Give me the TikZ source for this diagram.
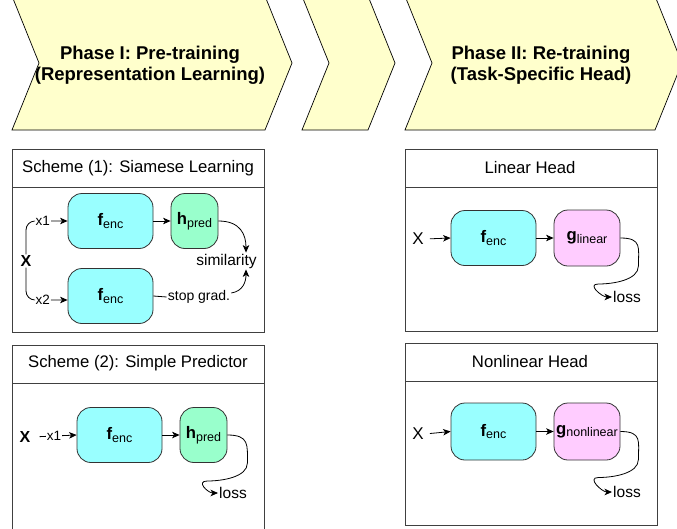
\documentclass[tikz,border=0pt]{standalone}
\usepackage{fontspec}
\setmainfont{Liberation Sans}
\usetikzlibrary{arrows.meta}
\definecolor{chevfill}{HTML}{FFFFCC}
\definecolor{encfill}{HTML}{99FFFF}
\definecolor{predfill}{HTML}{99FFCC}
\definecolor{headfill}{HTML}{FFCCFF}
\newcommand\fsz[1]{\fontsize{#1}{#1}\selectfont}
\newcommand\lowsub[1]{\raisebox{-0.3ex}{\fsz{12.5}#1}}
\begin{document}
\begin{tikzpicture}[x=1pt,y=-1pt,
  chev/.style={draw=black, fill=chevfill, line width=0.7pt},
  chevtext/.style={align=center, font=\fontsize{18.5}{21}\selectfont\bfseries},
  panel/.style={draw=black!75, line width=0.8pt},
  ptitle/.style={font=\fsz{16.7}},
  blk/.style={draw=black!80, line width=0.8pt, rounded corners=14pt, inner sep=0pt, font=\fsz{16.7}},
  enc/.style={blk, fill=encfill, minimum width=85pt, minimum height=55pt},
  pred/.style={blk, fill=predfill, minimum width=47pt, minimum height=55pt},
  head/.style={blk, fill=headfill, minimum width=66pt, minimum height=56pt},
  conn/.style={line width=0.8pt, -{Stealth[length=7.5pt,width=6.5pt,inset=2pt]}},
  lbl/.style={fill=white, inner sep=1pt, font=\fsz{13.5}},
  txt/.style={inner sep=1pt, font=\fsz{15.5}},
  xin/.style={inner sep=1pt, font=\fsz{17}}
]
\useasboundingbox (0,0) rectangle (677,528);
\clip (0,0) rectangle (677,528);

% chevrons
\draw[chev] (12,-4) -- (265,-4) -- (292,63) -- (265,130) -- (12,130) -- (39,63) -- cycle;
\draw[chev] (302,-4) -- (368,-4) -- (395,63) -- (368,130) -- (302,130) -- (329,63) -- cycle;
\draw[chev] (405,-4) -- (655,-4) -- (682,63) -- (655,130) -- (405,130) -- (432,63) -- cycle;
\node[chevtext] (ph1) at (150,65.5) {Phase I: Pre-training\\(Representation Learning)};
\node[chevtext] (ph2) at (541,65.5) {Phase II: Re-training\\(Task-Specific Head)};

% Panel 1
\draw[panel] (12,149) rectangle (264,332);
\draw[panel] (12,187) -- (264,187);
\node[ptitle] (t1) at (138,168) {Scheme (1): Siamese Learning};
\node[enc] (f1) at (110.5,221) {{\bfseries f}\lowsub{enc}};
\node[pred] (h1) at (194.5,221) {{\bfseries h}\lowsub{pred}};
\node[enc] (f2) at (110.5,296) {{\bfseries f}\lowsub{enc}};
\node[xin, font=\fsz{16}\bfseries] (xa) at (26,261) {X};
\node[txt] (sim) at (226.5,261) {similarity};
\node[inner sep=1pt, font=\fsz{14}] (sg) at (199,297) {stop grad.};
\draw[conn, rounded corners=9pt] (xa.north) |- node[lbl, pos=0.7]{x1} (f1.west);
\draw[conn, rounded corners=9pt] (xa.south) |- node[lbl, pos=0.7]{x2} ([yshift=-4pt]f2.west);
\draw[conn] (f1) -- (h1);
\draw[conn] (h1.east) .. controls +(22,0) and +(0,-18) .. ([xshift=19.5pt]sim.north);
\draw[conn] (f2.east) -- (sg.west) ([yshift=4pt]sg.east) .. controls +(12,-2) and +(0,12) .. ([xshift=19.5pt]sim.south);

% Panel 2
\draw[panel] (12,345) rectangle (264,540);
\draw[panel] (12,383) -- (264,383);
\node[ptitle] (t2) at (138,363) {Scheme (2): Simple Predictor};
\node[enc] (f3) at (119.5,435) {{\bfseries f}\lowsub{enc}};
\node[pred] (h2) at (203.5,435) {{\bfseries h}\lowsub{pred}};
\node[xin, font=\fsz{16}\bfseries] (xb) at (25,437) {X};
\draw[conn, shorten <=8pt] (xb.east) -- node[lbl]{x1} (f3.west);
\draw[conn] (f3) -- (h2);
\node[txt] (loss2) at (233,493) {loss};
\draw[conn] (h2.east) .. controls +(22,0) and +(0,-18) .. ++(20,28) .. controls +(0,14) and +(15,0) .. ++(-40,18) .. controls +(-12,0) and +(-10,0) .. (loss2.west);

% Panel 3
\draw[panel] (405,149) rectangle (657,331);
\draw[panel] (405,187) -- (657,187);
\node[ptitle] (t3) at (530,168) {Linear Head};
\node[xin] (xc) at (418,239) {X};
\node[enc] (f4) at (493.5,238) {{\bfseries f}\lowsub{enc}};
\node[head] (g1) at (587,238) {{\bfseries g}\lowsub{linear}};
\draw[conn, shorten <=5pt] (xc.east) -- (f4.west);
\draw[conn] (f4) -- (g1);
\node[txt] (loss3) at (627,297) {loss};
\draw[conn] (g1.east) .. controls +(22,0) and +(0,-18) .. ++(18,28) .. controls +(0,14) and +(15,0) .. ++(-40,18) .. controls +(-12,0) and +(-10,0) .. (loss3.west);

% Panel 4
\draw[panel] (405,343) rectangle (657,525);
\draw[panel] (405,381) -- (657,381);
\node[ptitle] (t4) at (530,362) {Nonlinear Head};
\node[xin] (xd) at (418,434) {X};
\node[enc, minimum height=57pt] (f5) at (493.5,431.5) {{\bfseries f}\lowsub{enc}};
\node[head, minimum height=57pt] (g2) at (587,431.5) {{\bfseries g}\lowsub{nonlinear}};
\draw[conn, shorten <=5pt] (xd.east) -- (f5.west);
\draw[conn] (f5) -- (g2);
\node[txt] (loss4) at (627,492) {loss};
\draw[conn] (g2.east) .. controls +(22,0) and +(0,-18) .. ++(18,28) .. controls +(0,14) and +(15,0) .. ++(-40,18) .. controls +(-12,0) and +(-10,0) .. (loss4.west);
\end{tikzpicture}
\end{document}
